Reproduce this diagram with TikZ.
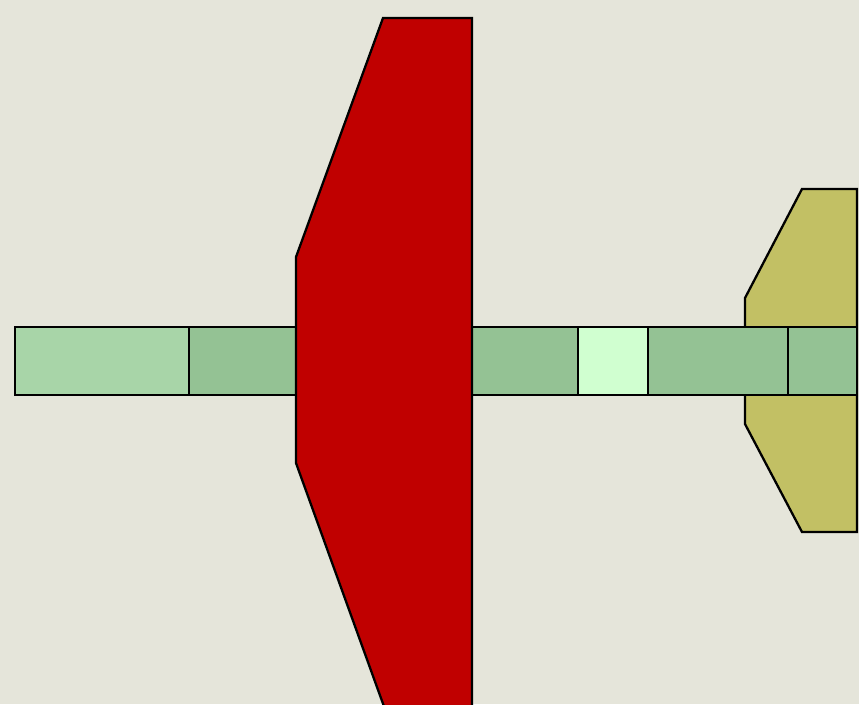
\documentclass[tikz,border=0pt]{standalone}
\usepackage{tikz}
\tikzset{
  part/.style={draw=black, line width=1.3pt, line join=miter},
  pale/.style={part, fill=palegreen}, mid/.style={part, fill=midgreen},
  mint/.style={part, fill=mintgreen}, wing/.style={part, fill=wingred},
  tail/.style={part, fill=tailolive},
}
\definecolor{bgpaper}{RGB}{229,229,218}
\definecolor{palegreen}{RGB}{168,213,168}
\definecolor{midgreen}{RGB}{148,194,148}
\definecolor{mintgreen}{RGB}{208,255,208}
\definecolor{wingred}{RGB}{192,0,0}
\definecolor{tailolive}{RGB}{194,192,100}

\begin{document}
\begin{tikzpicture}[x=0.02cm, y=-0.02cm]
    \fill[bgpaper] (0,0) rectangle (859,704);
    \useasboundingbox (0,0) rectangle (859,704);
    \clip (0,0) rectangle (859,704);
    % tail fin
    \draw[tail] (802,189) -- (857,189) -- (857,532) -- (802,532) -- (745,424) -- (745,298) -- cycle;
    % body segments
    \draw[pale] (15,327) rectangle (189,395);
    \draw[mid] (189,327) rectangle (296,395);
    \draw[mid] (472,327) rectangle (578,395);
    \draw[mint] (578,327) rectangle (648,395);
    \draw[mid] (648,327) rectangle (788,395);
    \draw[mid] (788,327) rectangle (857,395);
    % main wing
    \draw[wing] (383,18) -- (472,18) -- (472,712) -- (386,712) -- (296,463) -- (296,257) -- cycle;
  \end{tikzpicture}
\end{document}
